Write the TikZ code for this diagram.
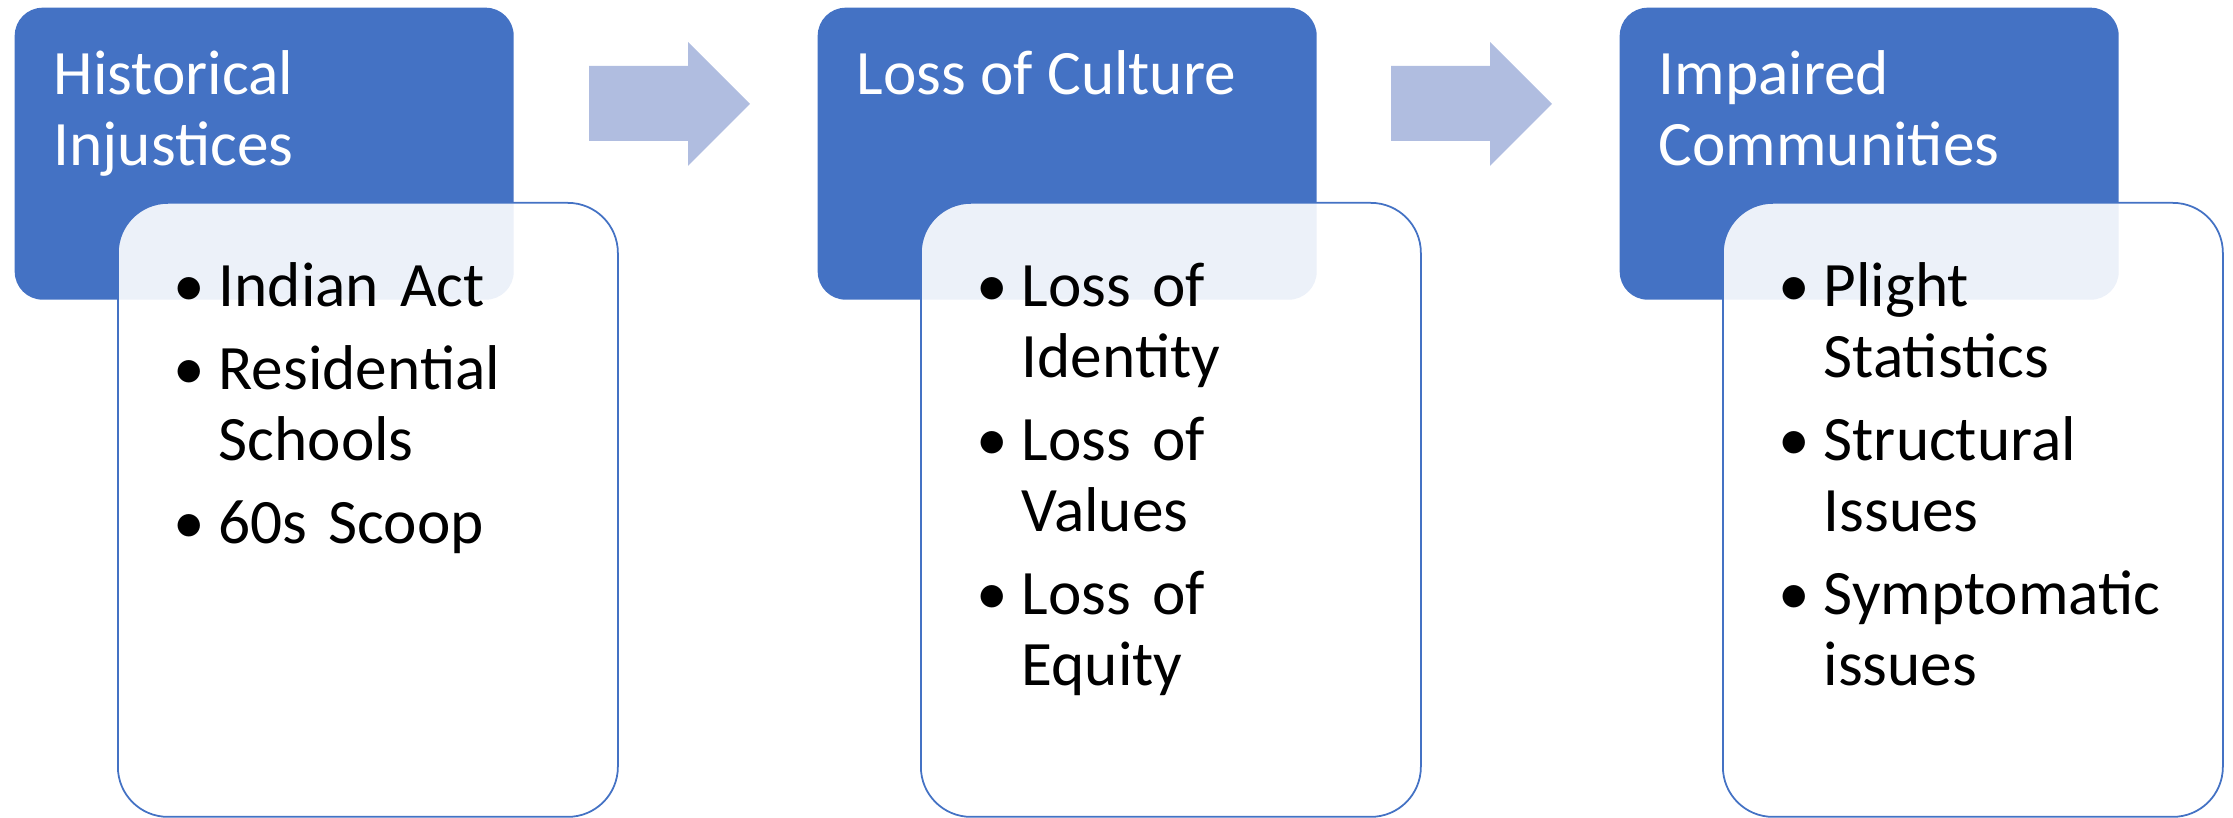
\documentclass[tikz,border=0pt]{standalone}
\usepackage{fontspec}
\setmainfont{Carlito}
\usetikzlibrary{positioning}
\definecolor{headblue}{RGB}{68,114,196}
\definecolor{arrowblue}{RGB}{176,189,224}
\newcommand{\bitem}[1]{\par\hangindent=0.45cm\hangafter=1\noindent\strut\makebox[0.45cm][l]{\textbullet}#1\par\vspace{3.4pt}}

\tikzset{
  headbox/.style={fill=headblue,rounded corners=0.28cm,minimum width=4.99cm,minimum height=2.92cm,anchor=north west,inner sep=0pt},
  bodybox/.style={draw=headblue,line width=0.5pt,fill=white,fill opacity=0.9,draw opacity=1,rounded corners=0.5cm,minimum width=5.0cm,minimum height=6.14cm,anchor=north west,inner sep=0pt},
  headtext/.style={text=white,anchor=north west,align=left,inner sep=0pt,font=\fontsize{18}{20.2}\selectfont},
  listtext/.style={anchor=north west,text width=4.3cm,inner sep=0pt,font=\fontsize{18}{20.2}\selectfont\raggedright},
}

\begin{document}
\begin{tikzpicture}
\useasboundingbox (0,0) rectangle (22.33,-8.18);

% header boxes
\node[headbox] (head1) at (0.14,-0.07) {};
\node[headbox] (head2) at (8.17,-0.07) {};
\node[headbox] (head3) at (16.19,-0.07) {};

% arrows between the steps
\fill[arrowblue] (5.89,-0.66) -- (6.88,-0.66) -- (6.88,-0.42) -- (7.50,-1.04)
  -- (6.88,-1.66) -- (6.88,-1.41) -- (5.89,-1.41) -- cycle;
\fill[arrowblue] (13.91,-0.66) -- (14.90,-0.66) -- (14.90,-0.42) -- (15.52,-1.04)
  -- (14.90,-1.66) -- (14.90,-1.41) -- (13.91,-1.41) -- cycle;

% list boxes
\node[bodybox] (body1) at ([shift={(1.03,-1.95)}]head1.north west) {};
\node[bodybox] (body2) at ([shift={(1.03,-1.95)}]head2.north west) {};
\node[bodybox] (body3) at ([shift={(1.03,-1.95)}]head3.north west) {};

% titles
\node[headtext] (title1) at ([shift={(0.39,-0.371)}]head1.north west) {\strut Historical\\Injustices};
\node[headtext] (title2) at ([shift={(0.39,-0.371)}]head2.north west) {\strut Loss of Culture};
\node[headtext] (title3) at ([shift={(0.39,-0.371)}]head3.north west) {\strut Impaired\\Communities};

% lists
\node[listtext] (list1) at ([shift={(0.56,-0.33)}]body1.north west)
  {\bitem{Indian Act}\bitem{Residential\newline Schools}\bitem{60s Scoop}};
\node[listtext] (list2) at ([shift={(0.56,-0.33)}]body2.north west)
  {\bitem{Loss of\newline Identity}\bitem{Loss of\newline Values}\bitem{Loss of\newline Equity}};
\node[listtext] (list3) at ([shift={(0.56,-0.33)}]body3.north west)
  {\bitem{Plight\newline Statistics}\bitem{Structural\newline Issues}\bitem{Symptomatic\newline issues}};
\end{tikzpicture}
\end{document}
